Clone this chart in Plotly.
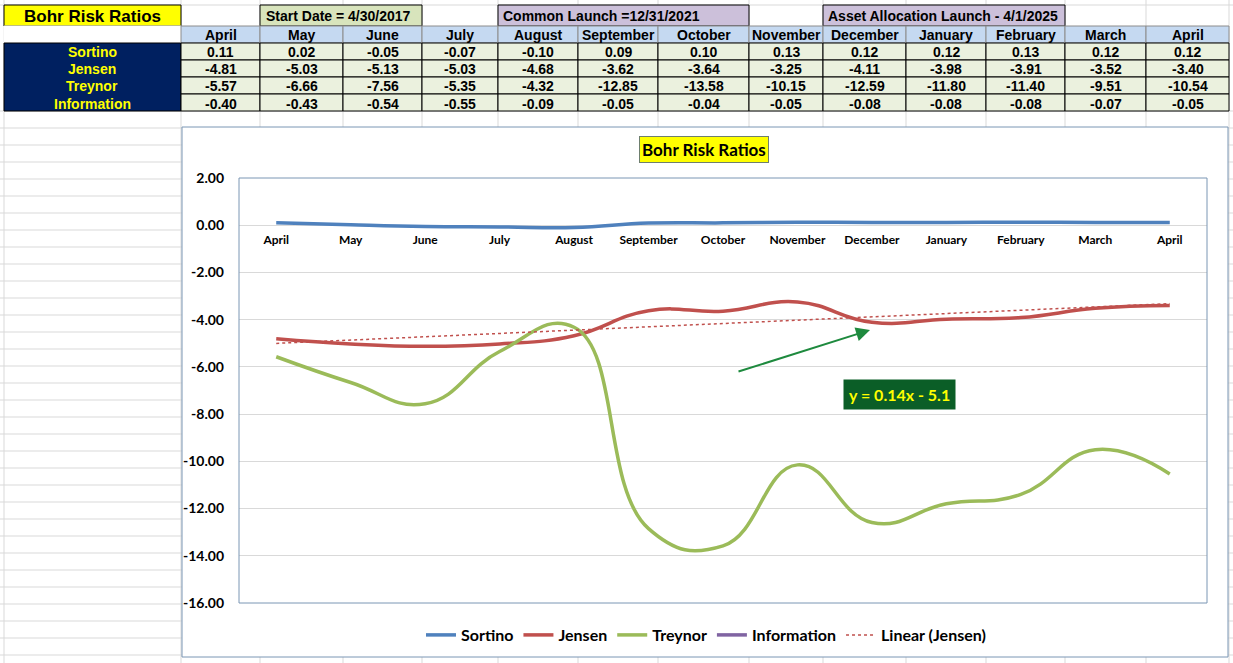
import numpy as np
import plotly.graph_objects as go

months = ["April", "May", "June", "July", "August", "September", "October",
          "November", "December", "January", "February", "March", "April"]
sortino = [0.11, 0.02, -0.05, -0.07, -0.10, 0.09, 0.10, 0.13, 0.12, 0.12, 0.13, 0.12, 0.12]
jensen = [-4.81, -5.03, -5.13, -5.03, -4.68, -3.62, -3.64, -3.25, -4.11, -3.98, -3.91, -3.52, -3.40]
treynor = [-5.57, -6.66, -7.56, -5.35, -4.32, -12.85, -13.58, -10.15, -12.59, -11.80, -11.40, -9.51, -10.54]
information = [-0.40, -0.43, -0.54, -0.55, -0.09, -0.05, -0.04, -0.05, -0.08, -0.08, -0.08, -0.07, -0.05]
series_names = ["Sortino", "Jensen", "Treynor", "Information"]
y_ticks = [2, 0, -2, -4, -6, -8, -10, -12, -14, -16]

W, H = 1233, 663


def fx(p):
    return p / W


def fy(p):
    return 1 - p / H


# mise en page de la feuille (pixels)
col_edges = [181, 260, 343, 422, 498, 578, 658, 749, 823, 906, 986, 1065, 1146, 1229]
row_edges = [5, 26, 43, 60, 77, 94, 111]
plot_l, plot_r, plot_t, plot_b = 239, 1207, 178, 603

NARROW = "Liberation Sans Narrow, Arial Narrow, Liberation Sans, Arial"
ARIAL = "Liberation Sans, Arial"
CHART = "Lato, Calibri, sans-serif"

shapes = []
annotations = []


def rect(x0, y0, x1, y1, fill, line="black", width=1, layer="below"):
    shapes.append(dict(type="rect", xref="paper", yref="paper",
                       x0=fx(x0), x1=fx(x1), y0=fy(y1), y1=fy(y0),
                       fillcolor=fill, line=dict(color=line, width=width), layer=layer))


def text(x, y, s, size=13, color="black", family=NARROW, xanchor="center"):
    annotations.append(dict(x=fx(x), y=fy(y), xref="paper", yref="paper", text=s,
                            showarrow=False, xanchor=xanchor, yanchor="middle",
                            font=dict(size=size, color=color, family=family, weight="bold")))


# quadrillage de la feuille
grid_c = "#d9d9d9"
for x in [4] + col_edges:
    shapes.append(dict(type="line", xref="paper", yref="paper", x0=fx(x), x1=fx(x),
                       y0=0, y1=1, line=dict(color=grid_c, width=1), layer="below"))
for y in [5] + list(range(111, 664, 17)):
    shapes.append(dict(type="line", xref="paper", yref="paper", x0=0, x1=1,
                       y0=fy(y), y1=fy(y), line=dict(color=grid_c, width=1), layer="below"))

# tableau
rect(4, 5, 181, 26, "#ffff00")
text(92, 16, "Bohr Risk Ratios", size=17, family=ARIAL)
rect(col_edges[1], 5, col_edges[3], 26, "#d8e4bc")
text(col_edges[1] + 4, 16, "Start Date = 4/30/2017", size=14, xanchor="left")
rect(col_edges[4], 5, col_edges[7], 26, "#ccc0da")
text(col_edges[4] + 3, 16, "Common Launch =12/31/2021", size=14, xanchor="left")
rect(col_edges[8], 5, col_edges[11], 26, "#ccc0da")
text(col_edges[8] + 3, 16, "Asset Allocation Launch - 4/1/2025", size=14, xanchor="left")

rect(4, 26, 181, 43, "white", line="white")
rect(4, 43, 181, 111, "#002060", line="black")
values = [sortino, jensen, treynor, information]
for i, m in enumerate(months):
    x0, x1 = col_edges[i], col_edges[i + 1]
    rect(x0, 26, x1, 43, "#c5d9f1", line="#8c8c8c")
    text((x0 + x1) / 2, 35, m, size=14)
    for r, vals in enumerate(values):
        rect(x0, row_edges[r + 2], x1, row_edges[r + 3], "#ebf1de")
        text((x0 + x1) / 2, (row_edges[r + 2] + row_edges[r + 3]) / 2 + 1, f"{vals[i]:.2f}", size=14)
for r, name in enumerate(series_names):
    text(92, (row_edges[r + 2] + row_edges[r + 3]) / 2 + 1, name, size=14, color="#ffff00", family=ARIAL)

# cadre du graphique
rect(182, 127, 1228, 657, "white", line="#7b96b4")
rect(plot_l, plot_t, plot_r, plot_b, "rgba(0,0,0,0)", line="#7b96b4", layer="above")

# titre du graphique
annotations.append(dict(x=fx(704), y=fy(150), xref="paper", yref="paper",
                        text="Bohr Risk Ratios", showarrow=False, xanchor="center", yanchor="middle",
                        font=dict(size=17, family=CHART, color="black", weight="bold"),
                        bgcolor="#ffff00", bordercolor="#6e7f6e", borderwidth=1, borderpad=2))

# fleche et equation de la tendance
annotations.append(dict(x=fx(870), y=fy(330), xref="paper", yref="paper", text="",
                        showarrow=True, ax=-133, ay=42, arrowhead=2, arrowsize=1.4,
                        arrowwidth=2, arrowcolor="#1e8a3e", standoff=0))
annotations.append(dict(x=fx(899), y=fy(394), xref="paper", yref="paper",
                        text="y = 0.14x - 5.1", showarrow=False, xanchor="center", yanchor="middle",
                        font=dict(size=16, family=CHART, color="#ffff00", weight="bold"),
                        bgcolor="#0b5e27", borderpad=5))

x = list(range(len(months)))
fig = go.Figure()
colors = ["#4f81bd", "#c0504d", "#9bbb59", "#8064a2"]
for name, vals, col in zip(series_names[:3], values[:3], colors[:3]):
    fig.add_trace(go.Scatter(x=x, y=vals, name=name, mode="lines",
                             line=dict(color=col, width=3.5, shape="spline", smoothing=1.3)))
# la serie Information n'apparait que dans la legende
fig.add_trace(go.Scatter(x=[None], y=[None], name="Information", mode="lines",
                         line=dict(color=colors[3], width=3.5)))

# tendance lineaire (Jensen)
xi = np.arange(1, len(jensen) + 1)
slope, intercept = np.polyfit(xi, jensen, 1)
fig.add_trace(go.Scatter(x=x, y=slope * xi + intercept, name="Linear (Jensen)", mode="lines",
                         line=dict(color="#c0504d", width=1.5, dash="dot")))

zero_pos = fy(plot_t + (plot_b - plot_t) * (y_ticks[0] - 0) / (y_ticks[0] - y_ticks[-1]))

fig.update_layout(
    width=W, height=H,
    margin=dict(l=0, r=0, t=0, b=0, autoexpand=False),
    paper_bgcolor="white",
    plot_bgcolor="rgba(0,0,0,0)",
    font=dict(family=CHART, color="black"),
    shapes=shapes,
    annotations=annotations,
    showlegend=True,
    legend=dict(orientation="h", x=fx(706), xanchor="center", y=fy(635), yanchor="middle",
                font=dict(size=16, family=CHART, weight="bold"), bgcolor="rgba(0,0,0,0)",
                itemwidth=30, traceorder="normal"),
    xaxis=dict(domain=[fx(plot_l), fx(plot_r)], range=[-0.5, 12.5],
               tickvals=x, ticktext=months, anchor="free", position=zero_pos,
               showgrid=False, zeroline=False, showline=False, ticks="", automargin=False,
               tickfont=dict(size=12, family=CHART, weight="bold"), ticklabelstandoff=6),
    yaxis=dict(domain=[fy(plot_b), fy(plot_t)], range=[y_ticks[-1], y_ticks[0]],
               tickvals=y_ticks, ticktext=[f"{v:.2f}" for v in y_ticks], automargin=False,
               showgrid=True, gridcolor="#d9d9d9", zeroline=False, showline=False,
               ticks="", tickfont=dict(size=14, family=CHART, weight="bold"),
               ticklabelstandoff=14),
)

fig.write_html("out.html", config={"displayModeBar": False},
               post_script="document.body.style.margin='0';")
